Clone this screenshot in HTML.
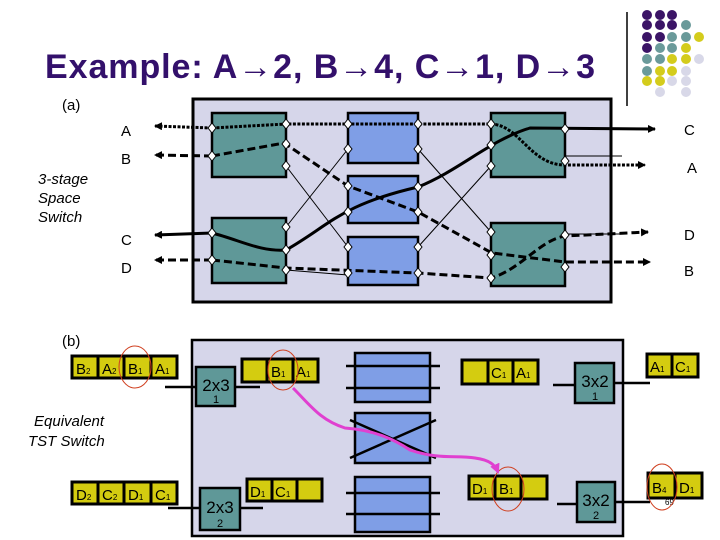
<!DOCTYPE html>
<html><head><meta charset="utf-8"><style>
body{margin:0;background:#fff;}
svg{display:block;font-family:"Liberation Sans",sans-serif;}
</style></head><body>
<svg width="720" height="540" viewBox="0 0 720 540" xmlns="http://www.w3.org/2000/svg">
<defs>
<marker id="ah" markerWidth="8" markerHeight="8" refX="7" refY="4" orient="auto" markerUnits="userSpaceOnUse"><path d="M0,0 L8,4 L0,8 z" fill="#000"/></marker>
<marker id="mh" markerWidth="10" markerHeight="10" refX="8" refY="5" orient="auto" markerUnits="userSpaceOnUse"><path d="M0,0 L10,5 L0,10 z" fill="#e040d0"/></marker>
</defs>
<g>
<circle cx="647" cy="15" r="5" fill="#3b1466"/><circle cx="660" cy="15" r="5" fill="#3b1466"/><circle cx="672" cy="15" r="5" fill="#3b1466"/>
<circle cx="647" cy="25" r="5" fill="#3b1466"/><circle cx="660" cy="25" r="5" fill="#3b1466"/><circle cx="672" cy="25" r="5" fill="#3b1466"/><circle cx="686" cy="25" r="5" fill="#6a9a9a"/>
<circle cx="647" cy="37" r="5" fill="#3b1466"/><circle cx="660" cy="37" r="5" fill="#3b1466"/><circle cx="672" cy="37" r="5" fill="#6a9a9a"/><circle cx="686" cy="37" r="5" fill="#6a9a9a"/><circle cx="699" cy="37" r="5" fill="#d4cc1c"/>
<circle cx="647" cy="48" r="5" fill="#3b1466"/><circle cx="660" cy="48" r="5" fill="#6a9a9a"/><circle cx="672" cy="48" r="5" fill="#6a9a9a"/><circle cx="686" cy="48" r="5" fill="#d4cc1c"/>
<circle cx="647" cy="59" r="5" fill="#6a9a9a"/><circle cx="660" cy="59" r="5" fill="#6a9a9a"/><circle cx="672" cy="59" r="5" fill="#d4cc1c"/><circle cx="686" cy="59" r="5" fill="#d4cc1c"/><circle cx="699" cy="59" r="5" fill="#d8d8e8"/>
<circle cx="647" cy="71" r="5" fill="#6a9a9a"/><circle cx="660" cy="71" r="5" fill="#d4cc1c"/><circle cx="672" cy="71" r="5" fill="#d4cc1c"/><circle cx="686" cy="71" r="5" fill="#d8d8e8"/>
<circle cx="647" cy="81" r="5" fill="#d4cc1c"/><circle cx="660" cy="81" r="5" fill="#d4cc1c"/><circle cx="672" cy="81" r="5" fill="#d8d8e8"/><circle cx="686" cy="81" r="5" fill="#d8d8e8"/>
<circle cx="660" cy="92" r="5" fill="#d8d8e8"/><circle cx="686" cy="92" r="5" fill="#d8d8e8"/>
</g>
<line x1="627" y1="12" x2="627" y2="106" stroke="#000" stroke-width="1.5"/>
<text x="45" y="78" font-size="34" font-weight="bold" fill="#33106b" textLength="550" lengthAdjust="spacing">Example:  A→2, B→4, C→1, D→3</text>

<text x="62" y="110" font-size="15">(a)</text>
<g font-size="15" font-style="italic"><text x="38" y="184">3-stage</text><text x="38" y="203">Space</text><text x="38" y="222">Switch</text></g>
<g font-size="15"><text x="121" y="136">A</text><text x="121" y="164">B</text><text x="121" y="245">C</text><text x="121" y="273">D</text>
<text x="684" y="135">C</text><text x="687" y="173">A</text><text x="684" y="240">D</text><text x="684" y="276">B</text></g>
<rect x="193" y="99" width="418" height="203" fill="#d6d6ea" stroke="#000" stroke-width="3"/>
<g stroke="#000" stroke-width="2.5">
<rect x="212" y="113" width="74" height="64" fill="#5f9898"/>
<rect x="212" y="218" width="74" height="65" fill="#5f9898"/>
<rect x="491" y="113" width="74" height="64" fill="#5f9898"/>
<rect x="491" y="223" width="74" height="63" fill="#5f9898"/>
<rect x="348" y="113" width="70" height="50" fill="#7f9ee6"/>
<rect x="348" y="176" width="70" height="47" fill="#7f9ee6"/>
<rect x="348" y="237" width="70" height="48" fill="#7f9ee6"/>
</g>
<g stroke="#000" stroke-width="1" fill="none">
<line x1="286" y1="166" x2="348" y2="247"/>
<line x1="286" y1="227" x2="348" y2="149"/>
<line x1="418" y1="149" x2="491" y2="232"/>
<line x1="418" y1="247" x2="491" y2="166"/>
<line x1="565" y1="156" x2="622" y2="156"/>
<line x1="565" y1="234" x2="622" y2="234"/>
<line x1="286" y1="270" x2="348" y2="275"/>
</g>
<g fill="none" stroke="#000">
<path d="M212,128 L155,126" stroke-width="3" stroke-dasharray="3,1.5" marker-end="url(#ah)"/>
<path d="M212,128 L286,124 L491,124 C520,125 530,165 565,165 L645,165" stroke-width="3" stroke-dasharray="3,1.5" marker-end="url(#ah)"/>
<path d="M212,156 L155,155" stroke-width="3" stroke-dasharray="8,4" marker-end="url(#ah)"/>
<path d="M212,156 L284,143 L348,186 L418,212 L492,253 L565,262 L650,262" stroke-width="3" stroke-dasharray="8,4" marker-end="url(#ah)"/>
<path d="M212,233 L155,235" stroke-width="3" marker-end="url(#ah)"/>
<path d="M212,233 C240,240 260,252 286,250 C330,225 340,205 418,187 C460,170 490,140 530,128 L655,129" stroke-width="3" marker-end="url(#ah)"/>
<path d="M212,260 L155,260" stroke-width="3" stroke-dasharray="8,4" marker-end="url(#ah)"/>
<path d="M212,260 L286,268 L418,273 L491,278 C520,270 540,240 565,236 L648,232" stroke-width="3" stroke-dasharray="8,4" marker-end="url(#ah)"/>
</g>
<g fill="#fff" stroke="#000" stroke-width="1">
<path d="M212,123l4,5l-4,5l-4,-5z"/><path d="M212,151l4,5l-4,5l-4,-5z"/>
<path d="M286,119l4,5l-4,5l-4,-5z"/><path d="M286,139l4,5l-4,5l-4,-5z"/><path d="M286,161l4,5l-4,5l-4,-5z"/>
<path d="M212,228l4,5l-4,5l-4,-5z"/><path d="M212,255l4,5l-4,5l-4,-5z"/>
<path d="M286,222l4,5l-4,5l-4,-5z"/><path d="M286,245l4,5l-4,5l-4,-5z"/><path d="M286,265l4,5l-4,5l-4,-5z"/>
<path d="M348,119l4,5l-4,5l-4,-5z"/><path d="M348,144l4,5l-4,5l-4,-5z"/><path d="M418,119l4,5l-4,5l-4,-5z"/><path d="M418,144l4,5l-4,5l-4,-5z"/>
<path d="M348,181l4,5l-4,5l-4,-5z"/><path d="M348,207l4,5l-4,5l-4,-5z"/><path d="M418,182l4,5l-4,5l-4,-5z"/><path d="M418,207l4,5l-4,5l-4,-5z"/>
<path d="M348,242l4,5l-4,5l-4,-5z"/><path d="M348,268l4,5l-4,5l-4,-5z"/><path d="M418,242l4,5l-4,5l-4,-5z"/><path d="M418,268l4,5l-4,5l-4,-5z"/>
<path d="M491,119l4,5l-4,5l-4,-5z"/><path d="M491,140l4,5l-4,5l-4,-5z"/><path d="M491,161l4,5l-4,5l-4,-5z"/>
<path d="M565,124l4,5l-4,5l-4,-5z"/><path d="M565,156l4,5l-4,5l-4,-5z"/>
<path d="M491,227l4,5l-4,5l-4,-5z"/><path d="M491,250l4,5l-4,5l-4,-5z"/><path d="M491,273l4,5l-4,5l-4,-5z"/>
<path d="M565,230l4,5l-4,5l-4,-5z"/><path d="M565,262l4,5l-4,5l-4,-5z"/>
</g>

<text x="62" y="346" font-size="15">(b)</text>
<g font-size="15" font-style="italic"><text x="34" y="426">Equivalent</text><text x="28" y="446">TST Switch</text></g>
<rect x="192" y="340" width="431" height="196" fill="#d6d6ea" stroke="#000" stroke-width="2.5"/>
<g stroke="#000" stroke-width="2.5" fill="#7f9ee6">
<rect x="355" y="353" width="75" height="49"/><rect x="355" y="413" width="75" height="50"/><rect x="355" y="477" width="75" height="55"/>
</g>
<g stroke="#000" stroke-width="2.5">
<line x1="346" y1="366" x2="440" y2="366"/><line x1="346" y1="388" x2="440" y2="388"/>
<line x1="346" y1="493" x2="440" y2="493"/><line x1="346" y1="514" x2="440" y2="514"/>
<line x1="350" y1="458" x2="436" y2="420"/><line x1="350" y1="420" x2="436" y2="458"/>
<line x1="165" y1="387" x2="196" y2="387"/><line x1="235" y1="387" x2="260" y2="387"/>
<line x1="168" y1="508" x2="200" y2="508"/><line x1="240" y1="508" x2="263" y2="508"/>
<line x1="553" y1="385" x2="575" y2="385"/><line x1="614" y1="383" x2="650" y2="383"/>
<line x1="557" y1="504" x2="577" y2="504"/><line x1="615" y1="502" x2="650" y2="502"/>
</g>
<g stroke="#000" stroke-width="2.5" fill="#5f9898">
<rect x="196" y="367" width="39" height="39"/><rect x="200" y="488" width="40" height="42"/>
<rect x="575" y="363" width="39" height="40"/><rect x="577" y="482" width="38" height="40"/>
</g>
<g font-size="17" text-anchor="middle"><text x="216" y="391">2x3</text><text x="220" y="513">2x3</text><text x="595" y="387">3x2</text><text x="596" y="506">3x2</text></g>
<g font-size="11" text-anchor="middle"><text x="216" y="403">1</text><text x="220" y="527">2</text><text x="595" y="400">1</text><text x="596" y="519">2</text></g>
<g fill="#d4cc10" stroke="#000" stroke-width="3">
<rect x="72" y="356" width="26" height="22"/><rect x="98" y="356" width="26" height="22"/><rect x="124" y="356" width="27" height="22"/><rect x="151" y="356" width="26" height="22"/>
<rect x="242" y="359" width="25" height="23"/><rect x="267" y="359" width="26" height="23"/><rect x="293" y="359" width="25" height="23"/>
<rect x="462" y="360" width="26" height="24"/><rect x="488" y="360" width="25" height="24"/><rect x="513" y="360" width="25" height="24"/>
<rect x="647" y="354" width="25" height="23"/><rect x="672" y="354" width="26" height="23"/>
<rect x="72" y="482" width="26" height="22"/><rect x="98" y="482" width="26" height="22"/><rect x="124" y="482" width="27" height="22"/><rect x="151" y="482" width="26" height="22"/>
<rect x="247" y="479" width="25" height="22"/><rect x="272" y="479" width="25" height="22"/><rect x="297" y="479" width="25" height="22"/>
<rect x="469" y="476" width="26" height="23"/><rect x="495" y="476" width="26" height="23"/><rect x="521" y="476" width="26" height="23"/>
<rect x="648" y="473" width="27" height="25"/><rect x="675" y="473" width="27" height="25"/>
</g>
<g font-size="15">
<text x="76" y="374">B<tspan font-size="8">2</tspan></text><text x="102" y="374">A<tspan font-size="8">2</tspan></text><text x="128" y="374">B<tspan font-size="8">1</tspan></text><text x="155" y="374">A<tspan font-size="8">1</tspan></text>
<text x="271" y="377">B<tspan font-size="8">1</tspan></text><text x="296" y="377">A<tspan font-size="8">1</tspan></text>
<text x="491" y="378">C<tspan font-size="8">1</tspan></text><text x="516" y="378">A<tspan font-size="8">1</tspan></text>
<text x="650" y="372">A<tspan font-size="8">1</tspan></text><text x="675" y="372">C<tspan font-size="8">1</tspan></text>
<text x="76" y="500">D<tspan font-size="8">2</tspan></text><text x="102" y="500">C<tspan font-size="8">2</tspan></text><text x="128" y="500">D<tspan font-size="8">1</tspan></text><text x="155" y="500">C<tspan font-size="8">1</tspan></text>
<text x="250" y="497">D<tspan font-size="8">1</tspan></text><text x="275" y="497">C<tspan font-size="8">1</tspan></text>
<text x="472" y="494">D<tspan font-size="8">1</tspan></text><text x="499" y="494">B<tspan font-size="8">1</tspan></text>
<text x="652" y="493">B<tspan font-size="8">4</tspan></text><text x="679" y="493">D<tspan font-size="8">1</tspan></text>
</g>
<text x="665" y="505" font-size="8">69</text>
<g fill="none" stroke="#d04020" stroke-width="1">
<ellipse cx="135" cy="367" rx="16" ry="21"/><ellipse cx="283" cy="370" rx="15" ry="20"/>
<ellipse cx="508" cy="489" rx="16" ry="22"/><ellipse cx="662" cy="487" rx="15" ry="23"/>
</g>
<path d="M293,388 C310,405 320,420 345,428 C375,430 395,440 410,450 C440,460 455,455 475,458 C490,460 495,465 498,472" fill="none" stroke="#e040d0" stroke-width="3" marker-end="url(#mh)"/>
</svg>
</body></html>
